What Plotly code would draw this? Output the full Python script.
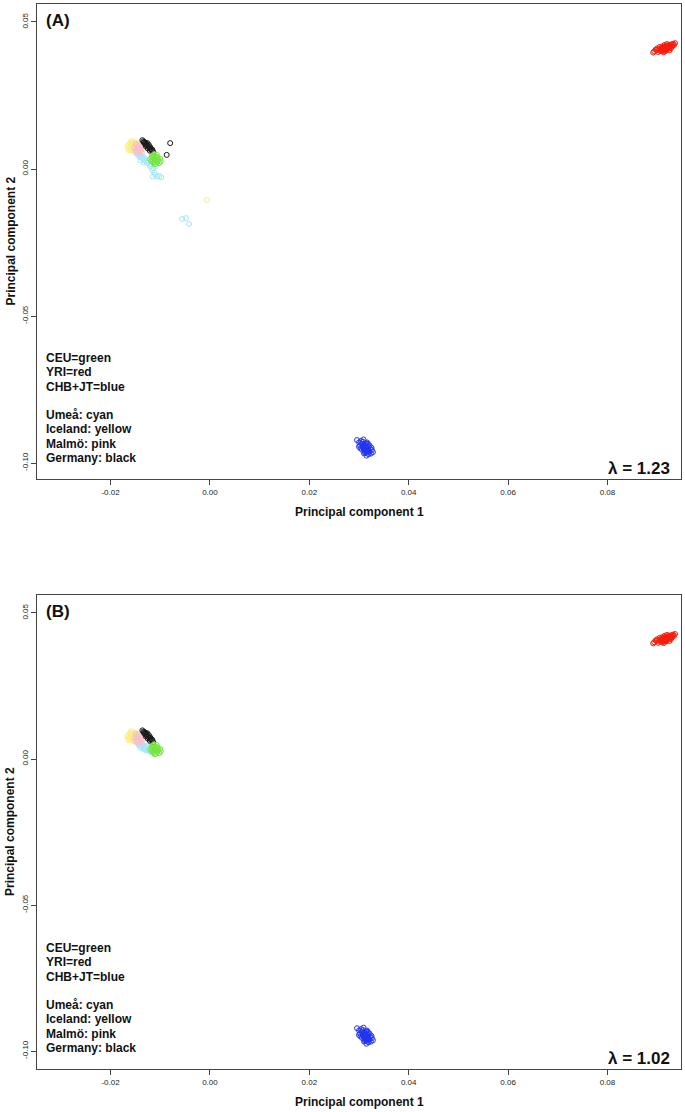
import plotly.graph_objects as go

# ---------------- data (PC1, PC2) ----------------
RED_X = [0.0894, 0.0899, 0.0902, 0.0904, 0.0906, 0.0908, 0.0909, 0.0911, 0.0912, 0.0914,
         0.0914, 0.0916, 0.0917, 0.0918, 0.0919, 0.0920, 0.0921, 0.0922, 0.0923, 0.0924,
         0.0925, 0.0926, 0.0927, 0.0928, 0.0929, 0.0930, 0.0931, 0.0932, 0.0900, 0.0905,
         0.0910, 0.0915, 0.0920, 0.0897, 0.0934, 0.0925, 0.0913, 0.0936, 0.0892, 0.0917,
         0.0908, 0.0910, 0.0912, 0.0914, 0.0916, 0.0918, 0.0911, 0.0915, 0.0919, 0.0907,
         0.0913, 0.0917, 0.0921, 0.0909, 0.0923]
RED_Y = [0.0400, 0.0404, 0.0398, 0.0408, 0.0402, 0.0410, 0.0404, 0.0400, 0.0412, 0.0407,
         0.0416, 0.0410, 0.0418, 0.0404, 0.0414, 0.0408, 0.0420, 0.0412, 0.0417, 0.0409,
         0.0422, 0.0415, 0.0419, 0.0411, 0.0424, 0.0417, 0.0421, 0.0426, 0.0410, 0.0415,
         0.0417, 0.0422, 0.0425, 0.0406, 0.0422, 0.0404, 0.0397, 0.0428, 0.0396, 0.0402,
         0.0408, 0.0412, 0.0406, 0.0411, 0.0413, 0.0415, 0.0409, 0.0405, 0.0411, 0.0405,
         0.0414, 0.0407, 0.0414, 0.0402, 0.0418]

BLUE_X = [0.0296, 0.0300, 0.0302, 0.0304, 0.0306, 0.0307, 0.0308, 0.0309, 0.0310, 0.0311,
          0.0312, 0.0313, 0.0314, 0.0315, 0.0316, 0.0317, 0.0318, 0.0319, 0.0320, 0.0321,
          0.0322, 0.0324, 0.0326, 0.0328, 0.0303, 0.0309, 0.0315, 0.0321, 0.0312, 0.0306,
          0.0318, 0.0300, 0.0325, 0.0310, 0.0316,
          0.0308, 0.0310, 0.0312, 0.0314, 0.0316, 0.0311, 0.0313, 0.0315, 0.0309, 0.0317,
          0.0318, 0.0312]
BLUE_Y = [-0.0922, -0.0930, -0.0940, -0.0925, -0.0935, -0.0945, -0.0928, -0.0950, -0.0938, -0.0955,
          -0.0942, -0.0960, -0.0948, -0.0933, -0.0965, -0.0952, -0.0944, -0.0970, -0.0958, -0.0962,
          -0.0950, -0.0968, -0.0956, -0.0963, -0.0950, -0.0920, -0.0975, -0.0940, -0.0958, -0.0955,
          -0.0935, -0.0945, -0.0948, -0.0967, -0.0930,
          -0.0945, -0.0950, -0.0940, -0.0955, -0.0948, -0.0958, -0.0936, -0.0962, -0.0942, -0.0952,
          -0.0960, -0.0965]

YELLOW_X = [-0.0166, -0.0164, -0.0162, -0.0161, -0.0160, -0.0159, -0.0158, -0.0157, -0.0156, -0.0155,
            -0.0154, -0.0153, -0.0152, -0.0151, -0.0150, -0.0148, -0.0163, -0.0158, -0.0153, -0.0146]
YELLOW_Y = [0.0078, 0.0070, 0.0085, 0.0074, 0.0090, 0.0066, 0.0080, 0.0072, 0.0086, 0.0062,
            0.0078, 0.0092, 0.0068, 0.0082, 0.0074, 0.0088, 0.0064, 0.0095, 0.0060, 0.0080]

PINK_X = [-0.0152, -0.0150, -0.0148, -0.0147, -0.0146, -0.0145, -0.0144, -0.0143, -0.0142, -0.0141,
          -0.0140, -0.0139, -0.0138, -0.0137, -0.0136, -0.0134, -0.0149, -0.0144, -0.0139, -0.0133,
          -0.0146, -0.0141]
PINK_Y = [0.0072, 0.0062, 0.0080, 0.0068, 0.0058, 0.0076, 0.0064, 0.0084, 0.0070, 0.0060,
          0.0078, 0.0066, 0.0074, 0.0056, 0.0082, 0.0068, 0.0086, 0.0054, 0.0062, 0.0076,
          0.0070, 0.0072]

BLACK_X = [-0.0136, -0.0134, -0.0132, -0.0131, -0.0130, -0.0128, -0.0127, -0.0126, -0.0124, -0.0123,
           -0.0122, -0.0120, -0.0119, -0.0118, -0.0116, -0.0114, -0.0129, -0.0125, -0.0121, -0.0133]
BLACK_Y = [0.0098, 0.0094, 0.0092, 0.0086, 0.0090, 0.0084, 0.0080, 0.0088, 0.0076, 0.0082,
           0.0072, 0.0074, 0.0068, 0.0064, 0.0066, 0.0058, 0.0078, 0.0070, 0.0062, 0.0090]

GREEN_X = [-0.0120, -0.0118, -0.0116, -0.0115, -0.0114, -0.0113, -0.0112, -0.0111, -0.0110, -0.0109,
           -0.0108, -0.0107, -0.0106, -0.0105, -0.0104, -0.0102, -0.0100, -0.0117, -0.0111, -0.0106,
           -0.0099, -0.0113]
GREEN_Y = [0.0034, 0.0026, 0.0040, 0.0030, 0.0046, 0.0022, 0.0036, 0.0028, 0.0042, 0.0018,
           0.0032, 0.0048, 0.0024, 0.0038, 0.0030, 0.0020, 0.0034, 0.0044, 0.0016, 0.0040,
           0.0026, 0.0050]

CYAN_A_X = [-0.0150, -0.0148, -0.0146, -0.0144, -0.0142, -0.0140, -0.0138, -0.0136, -0.0134, -0.0132,
            -0.0130, -0.0128, -0.0126, -0.0124, -0.0122, -0.0120, -0.0118, -0.0116, -0.0114, -0.0112,
            -0.0110, -0.0106, -0.0102, -0.0098, -0.0115, -0.0108, -0.0140, -0.0133,
            -0.0056, -0.0048, -0.0042]
CYAN_A_Y = [0.0060, 0.0052, 0.0056, 0.0046, 0.0050, 0.0040, 0.0044, 0.0036, 0.0042, 0.0030,
            0.0034, 0.0026, 0.0020, 0.0028, 0.0014, 0.0008, 0.0016, -0.0004, 0.0004, -0.0012,
            -0.0020, -0.0026, -0.0024, -0.0028, -0.0026, 0.0010, 0.0030, 0.0022,
            -0.0170, -0.0167, -0.0187]

CYAN_B_X = [-0.0148, -0.0145, -0.0143, -0.0141, -0.0139, -0.0137, -0.0135, -0.0133, -0.0131, -0.0129,
            -0.0127, -0.0125, -0.0123, -0.0121, -0.0119, -0.0117, -0.0140, -0.0130, -0.0126, -0.0134]
CYAN_B_Y = [0.0058, 0.0052, 0.0048, 0.0054, 0.0044, 0.0050, 0.0040, 0.0046, 0.0036, 0.0042,
            0.0032, 0.0038, 0.0028, 0.0034, 0.0024, 0.0030, 0.0038, 0.0030, 0.0044, 0.0034]

# outliers only present in panel A
YELLOW_OUT_X = [-0.0006]
YELLOW_OUT_Y = [-0.0105]
BLACK_OUT_X = [-0.0080, -0.0087]
BLACK_OUT_Y = [0.0088, 0.0048]

X_TICKS = [-0.02, 0.00, 0.02, 0.04, 0.06, 0.08]
X_TICK_LABELS = ["-0.02", "0.00", "0.02", "0.04", "0.06", "0.08"]
Y_TICKS = [0.05, 0.00, -0.05, -0.10]
Y_TICK_LABELS = ["0.05", "0.00", "-0.05", "-0.10"]

LEGEND_1 = ["CEU=green", "YRI=red", "CHB+JT=blue"]
LEGEND_2 = ["Umeå: cyan", "Iceland: yellow", "Malmö: pink", "Germany: black"]
PANELS = ["(A)", "(B)"]
LAMBDAS = ["λ = 1.23", "λ = 1.02"]

# ---------------- styling ----------------
W, H = 685, 1112
FONT = "Liberation Sans, Arial, Helvetica, sans-serif"
COL = {
    "cyan": "#a3e8f6",
    "yellow": "#fbee7e",
    "pink": "#f9bfcc",
    "black": "#1a1a1a",
    "green": "#74e63a",
    "red": "#f51d0c",
    "blue": "#2334f0",
}

X_LEFT, X_RIGHT = 37, 681
PANEL_PX = [(4, 479), (595, 1069)]
X_RANGE = [-0.0348, 0.0948]
Y_RANGES = [[-0.10544, 0.05612], [-0.10616, 0.05616]]

fig = go.Figure()


def add(x, y, color, ax):
    fig.add_trace(go.Scatter(
        x=x, y=y, mode="markers", xaxis="x" + ax, yaxis="y" + ax,
        marker=dict(symbol="circle-open", size=5, color=color, line=dict(width=1, color=color)),
        showlegend=False, hoverinfo="skip"))


for i, ax in enumerate(["", "2"]):
    if i == 0:
        add(CYAN_A_X, CYAN_A_Y, COL["cyan"], ax)
        add(YELLOW_X + YELLOW_OUT_X, YELLOW_Y + YELLOW_OUT_Y, COL["yellow"], ax)
        add(PINK_X, PINK_Y, COL["pink"], ax)
        add(BLACK_X + BLACK_OUT_X, BLACK_Y + BLACK_OUT_Y, COL["black"], ax)
    else:
        add(CYAN_B_X, CYAN_B_Y, COL["cyan"], ax)
        add(YELLOW_X, YELLOW_Y, COL["yellow"], ax)
        add(PINK_X, PINK_Y, COL["pink"], ax)
        add(BLACK_X, BLACK_Y, COL["black"], ax)
    add(GREEN_X, GREEN_Y, COL["green"], ax)
    add(RED_X, RED_Y, COL["red"], ax)
    add(BLUE_X, BLUE_Y, COL["blue"], ax)

axis_common = dict(showgrid=False, zeroline=False, showline=True, mirror=True,
                   linecolor="#444", linewidth=1, ticks="outside", ticklen=5,
                   tickcolor="#444", tickwidth=1,
                   tickfont=dict(family=FONT, size=8, color="#222"))

layout = dict(width=W, height=H, margin=dict(l=0, r=0, t=0, b=0),
              paper_bgcolor="white", plot_bgcolor="white", showlegend=False)

annotations = []
for i, ax in enumerate(["", "2"]):
    top, bot = PANEL_PX[i]
    xd = [X_LEFT / W, X_RIGHT / W]
    yd = [1 - bot / H, 1 - top / H]
    layout["xaxis" + ax] = dict(axis_common, domain=xd, range=X_RANGE, tickvals=X_TICKS,
                                ticktext=X_TICK_LABELS, anchor="y" + ax)
    layout["yaxis" + ax] = dict(axis_common, domain=yd, range=Y_RANGES[i], tickvals=Y_TICKS,
                                ticktext=Y_TICK_LABELS, tickangle=-90, anchor="x" + ax)

    def py(p):
        return 1 - p / H

    # axis titles
    annotations.append(dict(text="<b>Principal component 1</b>", xref="paper", yref="paper",
                            x=359 / W, y=py(bot + 33), showarrow=False, xanchor="center",
                            yanchor="middle", font=dict(family=FONT, size=12, color="#111")))
    annotations.append(dict(text="<b>Principal component 2</b>", xref="paper", yref="paper",
                            x=10 / W, y=py((top + bot) / 2), showarrow=False, textangle=-90,
                            xanchor="center", yanchor="middle",
                            font=dict(family=FONT, size=12, color="#111")))
    # panel label
    annotations.append(dict(text="<b>" + PANELS[i] + "</b>", xref="paper", yref="paper",
                            x=44 / W, y=py(top + 16), showarrow=False, xanchor="left",
                            yanchor="middle", font=dict(family=FONT, size=17, color="#111")))
    # lambda
    annotations.append(dict(text="<b>" + LAMBDAS[i] + "</b>", xref="paper", yref="paper",
                            x=672 / W, y=py(bot - 11), showarrow=False, xanchor="right",
                            yanchor="middle", font=dict(family=FONT, size=17, color="#111")))
    # legend text
    lines = LEGEND_1 + [""] + LEGEND_2
    g_y = bot - 21
    for k, t in enumerate(lines):
        if not t:
            continue
        yy = g_y - (len(lines) - 1 - k) * 14.3
        annotations.append(dict(text="<b>" + t + "</b>", xref="paper", yref="paper",
                                x=44 / W, y=py(yy), showarrow=False, xanchor="left",
                                yanchor="middle", font=dict(family=FONT, size=12, color="#111")))

layout["annotations"] = annotations
fig.update_layout(**layout)
fig.write_html("out.html", config={"displayModeBar": False},
               post_script="document.body.style.margin='0';document.body.style.padding='0';"
                           "document.documentElement.style.overflow='hidden';")
